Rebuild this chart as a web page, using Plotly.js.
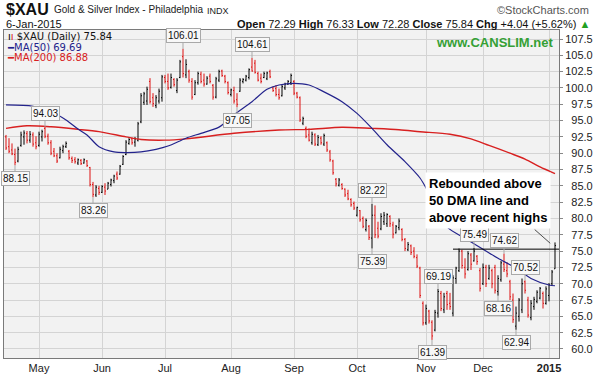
<!DOCTYPE html>
<html><head><meta charset="utf-8">
<script src="https://cdn.plot.ly/plotly-3.0.1.min.js"></script>
<style>html,body{margin:0;padding:0;background:#fff}</style>
</head><body><div id="chart" style="width:595px;height:379px"></div>
<script>
const dates = [
'2014-04-15','2014-04-16','2014-04-17','2014-04-21','2014-04-22','2014-04-23','2014-04-24','2014-04-25','2014-04-28','2014-04-29','2014-04-30',
'2014-05-01','2014-05-02','2014-05-05','2014-05-06','2014-05-07','2014-05-08','2014-05-09','2014-05-12','2014-05-13','2014-05-14','2014-05-15','2014-05-16','2014-05-19','2014-05-20','2014-05-21','2014-05-22','2014-05-23','2014-05-27','2014-05-28','2014-05-29','2014-05-30',
'2014-06-02','2014-06-03','2014-06-04','2014-06-05','2014-06-06','2014-06-09','2014-06-10','2014-06-11','2014-06-12','2014-06-13','2014-06-16','2014-06-17','2014-06-18','2014-06-19','2014-06-20','2014-06-23','2014-06-24','2014-06-25','2014-06-26','2014-06-27','2014-06-30',
'2014-07-01','2014-07-02','2014-07-03','2014-07-07','2014-07-08','2014-07-09','2014-07-10','2014-07-11','2014-07-14','2014-07-15','2014-07-16','2014-07-17','2014-07-18','2014-07-21','2014-07-22','2014-07-23','2014-07-24','2014-07-25','2014-07-28','2014-07-29','2014-07-30','2014-07-31',
'2014-08-01','2014-08-04','2014-08-05','2014-08-06','2014-08-07','2014-08-08','2014-08-11','2014-08-12','2014-08-13','2014-08-14','2014-08-15','2014-08-18','2014-08-19','2014-08-20','2014-08-21','2014-08-22','2014-08-25','2014-08-26','2014-08-27','2014-08-28','2014-08-29',
'2014-09-02','2014-09-03','2014-09-04','2014-09-05','2014-09-08','2014-09-09','2014-09-10','2014-09-11','2014-09-12','2014-09-15','2014-09-16','2014-09-17','2014-09-18','2014-09-19','2014-09-22','2014-09-23','2014-09-24','2014-09-25','2014-09-26','2014-09-29','2014-09-30',
'2014-10-01','2014-10-02','2014-10-03','2014-10-06','2014-10-07','2014-10-08','2014-10-09','2014-10-10','2014-10-13','2014-10-14','2014-10-15','2014-10-16','2014-10-17','2014-10-20','2014-10-21','2014-10-22','2014-10-23','2014-10-24','2014-10-27','2014-10-28','2014-10-29','2014-10-30','2014-10-31',
'2014-11-03','2014-11-04','2014-11-05','2014-11-06','2014-11-07','2014-11-10','2014-11-11','2014-11-12','2014-11-13','2014-11-14','2014-11-17','2014-11-18','2014-11-19','2014-11-20','2014-11-21','2014-11-24','2014-11-25','2014-11-26','2014-11-28',
'2014-12-01','2014-12-02','2014-12-03','2014-12-04','2014-12-05','2014-12-08','2014-12-09','2014-12-10','2014-12-11','2014-12-12','2014-12-15','2014-12-16','2014-12-17','2014-12-18','2014-12-19','2014-12-22','2014-12-23','2014-12-24','2014-12-26','2014-12-29','2014-12-30','2014-12-31',
'2015-01-02','2015-01-05','2015-01-06'];

const opens = [92.5,91.0,90.5,89.8,88.8,91.2,92.5,93.0,92.0,92.8,91.6,
91.2,92.5,93.8,92.6,91.6,90.3,89.6,89.3,90.4,91.0,90.3,89.2,89.0,88.5,88.9,88.5,88.8,87.8,85.2,83.6,84.6,
84.0,84.8,84.5,85.2,85.8,86.8,86.8,88.3,89.8,91.5,92.2,91.7,92.0,94.8,97.8,98.0,101.0,98.5,97.3,98.0,98.5,
101.6,101.0,100.1,101.3,99.6,101.6,104.8,102.0,102.5,101.0,99.0,100.8,102.1,101.2,100.6,101.8,100.4,98.6,101.2,102.6,101.8,100.8,
99.0,99.6,98.2,99.5,101.0,101.2,101.6,103.2,103.8,102.2,101.5,101.6,101.4,102.5,100.0,99.9,99.0,98.8,100.0,100.6,100.8,
101.0,99.2,98.5,94.6,93.8,92.8,91.6,92.8,91.3,92.3,91.4,91.6,90.2,88.8,86.0,85.1,85.2,84.5,83.8,82.9,82.3,
80.5,81.2,80.0,78.3,78.8,77.0,80.5,78.5,78.4,79.5,79.2,80.3,79.0,77.8,78.6,78.3,76.8,75.2,75.8,75.0,74.0,72.4,67.0,
64.0,65.8,64.1,62.9,65.5,68.5,66.0,68.5,67.0,65.5,70.8,72.0,75.0,72.5,72.2,74.4,73.5,74.2,72.0,
70.0,72.5,70.8,72.0,72.5,68.8,70.6,73.0,72.0,70.3,67.5,63.5,65.0,66.0,70.3,67.5,64.8,66.5,67.3,67.8,68.5,67.0,
68.2,70.0,72.29];
const highs = [92.8,92.3,91.5,90.7,91.0,93.3,93.5,93.4,93.4,93.2,92.6,
93.3,93.6,94.03,93.0,92.0,90.8,90.0,91.0,91.3,91.8,90.5,89.5,89.4,89.2,89.1,89.2,88.95,87.9,85.6,85.1,85.0,
85.1,85.4,85.6,86.1,86.7,87.2,88.2,89.7,92.0,92.3,92.4,92.5,94.8,99.2,99.4,100.2,101.5,99.2,98.9,99.9,102.0,
102.0,102.2,102.2,101.5,101.5,104.3,106.01,104.4,102.8,101.5,101.2,102.5,102.5,102.2,101.8,102.2,100.6,101.7,102.8,102.8,102.0,101.0,
99.9,100.2,99.2,101.5,101.5,102.0,103.0,104.61,104.3,102.5,102.2,102.5,102.5,102.8,100.2,100.45,99.9,100.45,100.8,101.2,102.2,
101.2,99.4,98.7,95.6,94.1,93.8,93.3,93.05,92.8,92.6,93.0,91.8,90.5,89.0,86.2,86.2,85.4,84.6,84.4,83.1,82.6,
81.8,81.3,80.3,80.0,79.0,82.22,82.0,79.5,80.8,81.0,80.8,80.5,79.5,79.0,80.0,78.5,77.0,76.4,76.0,75.6,74.5,72.6,67.3,
66.8,66.0,64.4,66.0,69.19,68.9,68.6,68.9,68.6,71.3,72.6,75.4,75.2,73.9,75.0,74.7,75.49,74.4,72.4,
73.1,72.9,72.9,72.3,72.9,71.3,73.5,74.62,73.3,70.6,68.5,66.5,67.8,70.8,70.52,68.0,67.5,68.0,69.0,69.5,68.8,69.6,
70.1,72.1,76.33];
const lows = [90.5,90.0,89.7,88.15,88.6,91.0,91.3,91.5,91.6,91.0,90.6,
91.0,91.8,92.3,91.3,89.7,89.4,88.5,89.2,90.0,90.8,89.0,88.5,88.4,88.2,88.2,88.4,87.9,84.9,83.26,83.3,83.6,
83.9,83.6,84.5,84.9,85.4,85.9,86.7,88.2,89.7,91.3,91.3,91.0,91.8,94.6,97.4,97.4,97.6,97.1,96.9,97.6,97.9,
100.7,99.7,99.9,100.2,99.2,101.5,101.6,101.5,100.8,98.2,98.9,100.5,100.7,100.2,100.5,100.7,98.2,98.4,100.9,101.7,100.7,99.0,
98.7,97.6,97.05,99.4,100.7,101.0,101.3,102.5,102.2,101.0,100.7,101.5,101.2,101.5,99.4,98.7,98.2,98.7,99.7,100.45,100.45,
98.9,98.4,94.8,94.3,92.3,91.8,91.3,91.1,91.1,91.3,91.1,90.2,88.7,86.7,84.9,84.9,84.4,83.3,82.8,81.8,81.3,
80.3,79.5,78.5,78.0,76.7,75.39,77.0,76.95,78.2,79.0,78.7,78.7,76.95,77.7,78.2,76.5,75.0,75.0,74.4,73.9,72.4,67.8,63.6,
63.7,63.9,61.39,62.7,64.8,65.8,65.5,66.0,66.0,65.0,70.0,71.8,72.3,70.8,72.0,72.1,73.4,72.9,68.8,
69.8,69.5,70.6,69.3,68.5,68.16,70.3,71.8,71.0,67.5,64.0,62.94,64.2,65.5,68.5,64.8,64.4,66.0,67.0,67.6,66.2,66.8,
67.3,69.8,72.28];
const closes = [90.8,90.3,89.9,88.6,90.6,92.8,93.1,92.0,92.9,91.4,91.0,
92.9,93.3,92.6,91.6,90.0,89.6,88.8,90.6,91.0,91.5,89.3,88.9,88.7,89.0,88.4,89.0,88.1,85.2,83.7,84.8,84.0,
84.9,84.2,85.4,85.9,86.5,86.2,88.0,89.5,91.7,92.1,91.6,92.2,94.5,98.8,99.1,99.8,97.9,97.6,98.5,99.5,101.7,
101.0,100.0,101.6,100.5,101.2,104.0,102.2,103.6,101.2,98.6,100.8,102.2,101.0,100.6,101.5,101.0,98.6,101.4,102.5,101.9,101.0,99.3,
99.7,98.0,97.5,101.2,101.3,101.8,102.8,102.6,102.4,101.2,101.0,102.2,102.3,101.7,99.6,99.0,98.5,100.2,100.6,101.0,101.9,
99.2,98.6,95.1,95.3,92.6,92.0,92.9,91.4,92.4,91.6,92.7,90.5,89.0,87.0,85.3,85.9,84.6,83.6,83.0,82.1,81.6,
81.7,79.8,78.8,79.7,77.1,80.5,77.5,77.3,80.3,80.5,80.6,79.2,77.6,78.8,79.6,76.8,75.4,76.0,74.8,74.2,72.7,68.2,64.0,
66.2,64.3,62.0,65.6,68.8,66.2,68.0,66.8,66.5,70.9,72.4,75.0,72.8,71.5,74.6,73.0,75.0,73.4,69.3,
72.5,70.0,72.4,70.0,69.0,70.8,73.2,72.2,71.5,68.0,64.5,65.5,67.5,70.0,69.0,65.2,67.0,67.6,68.7,69.3,67.0,69.2,
69.8,71.80,75.84];

const ma50Dates = ['2014-04-15','2014-04-29','2014-05-07','2014-05-14','2014-05-20','2014-05-23','2014-05-30','2014-06-06','2014-06-12','2014-06-19','2014-06-26','2014-07-02','2014-07-11','2014-07-18','2014-07-28','2014-08-04','2014-08-12','2014-08-19','2014-08-25','2014-09-02','2014-09-09','2014-09-16','2014-09-24','2014-10-01','2014-10-08','2014-10-15','2014-10-23','2014-10-30','2014-11-04','2014-11-12','2014-11-20','2014-12-01','2014-12-08','2014-12-16','2014-12-23','2015-01-02','2015-01-06'];
const ma50Values = [97.4,97.2,96.4,95.1,93.7,92.8,91.0,90.2,90.1,90.2,90.6,91.1,92.3,93.05,94.0,95.9,97.9,99.8,100.45,100.7,100.45,99.4,97.9,96.1,93.8,91.3,88.7,86.2,83.85,78.7,76.96,75.3,73.9,72.4,70.8,69.8,69.69];
const ma200Dates = ['2014-04-15','2014-04-25','2014-05-07','2014-05-20','2014-05-30','2014-06-12','2014-06-19','2014-07-01','2014-07-11','2014-08-04','2014-08-25','2014-09-09','2014-09-24','2014-10-08','2014-10-21','2014-10-30','2014-11-13','2014-11-24','2014-12-03','2014-12-12','2014-12-19','2014-12-29','2015-01-06'];
const ma200Values = [93.8,94.2,94.05,93.66,93.3,92.5,92.1,92.0,92.2,93.05,93.56,93.66,93.97,93.8,93.6,93.3,92.9,92.2,91.2,90.0,89.1,87.9,86.88];

const calloutHighDates = ['2014-05-05','2014-07-10','2014-08-12','2014-10-08','2014-11-07','2014-11-25','2014-12-10','2014-12-19'];
const calloutLowDates = ['2014-04-21','2014-05-28','2014-08-05','2014-10-08','2014-11-05','2014-12-08','2014-12-16'];
const resistanceLevel = 75.3;
const resistanceFrom = '2014-11-14';
const yTicks = [60,62.5,65,67.5,70,72.5,75,77.5,80,82.5,85,87.5,90,92.5,95,97.5,100,102.5,105,107.5];
const monthAbbr = ['Jan','Feb','Mar','Apr','May','Jun','Jul','Aug','Sep','Oct','Nov','Dec'];
const noteText = 'Rebounded above<br>50 DMA line and<br>above recent highs';

const pos = d => dates.indexOf(d);
const N = dates.length;

const up = {x:[],open:[],high:[],low:[],close:[]};
const dn = {x:[],open:[],high:[],low:[],close:[]};
for (let i = 0; i < N; i++) {
  const prev = i > 0 ? closes[i-1] : opens[i];
  const t = closes[i] >= prev ? up : dn;
  t.x.push(i); t.open.push(opens[i]); t.high.push(highs[i]); t.low.push(lows[i]); t.close.push(closes[i]);
}
function ohlcTrace(s, color) {
  return {type:'ohlc', x:s.x, open:s.open, high:s.high, low:s.low, close:s.close,
    increasing:{line:{color:color, width:1}}, decreasing:{line:{color:color, width:1}},
    tickwidth:0.34, hoverinfo:'skip', showlegend:false};
}
const RED = '#dd1111', NAVY = '#23238c', MARED = '#d82020';
const traces = [
  {type:'scatter', mode:'lines', x:ma200Dates.map(pos), y:ma200Values, line:{color:MARED, width:1.4, shape:'spline', smoothing:0.8}, hoverinfo:'skip', showlegend:false},
  {type:'scatter', mode:'lines', x:ma50Dates.map(pos), y:ma50Values, line:{color:NAVY, width:1.2, shape:'spline', smoothing:0.8}, hoverinfo:'skip', showlegend:false},
  ohlcTrace(up, '#000000'),
  ohlcTrace(dn, RED)
];

const tickIdx = [], tickText = [];
dates.forEach((d, i) => {
  if (i > 0 && d.slice(5,7) !== dates[i-1].slice(5,7)) {
    const m = +d.slice(5,7);
    tickIdx.push(i);
    tickText.push(m === 1 ? '<b>' + d.slice(0,4) + '</b>' : monthAbbr[m-1]);
  }
});

const L = 4, R = 559, T = 30, B = 358;
const PW = R - L, PH = B - T;
const px = x => (x - L) / PW;
const py = y => 1 - (y - T) / PH;

const annotations = [];
const boxStyle = {font:{family:'Liberation Sans, Arial', size:10, color:'#111'}, bgcolor:'#f8f8f8', bordercolor:'#a9a9a9', borderwidth:1, borderpad:1, showarrow:true, arrowhead:0, arrowwidth:1, arrowcolor:'#a9a9a9', ax:0};
calloutHighDates.forEach(d => { const i = pos(d); annotations.push(Object.assign({}, boxStyle, {x:i, y:highs[i], xref:'x', yref:'y', text:highs[i].toFixed(2), ay:-13})); });
calloutLowDates.forEach(d => { const i = pos(d); annotations.push(Object.assign({}, boxStyle, {x:i, y:lows[i], xref:'x', yref:'y', text:lows[i].toFixed(2), ay:13})); });

const last = N - 1;
const chg = closes[last] - closes[last-1];
annotations.push(
  {xref:'paper', yref:'paper', x:px(4), y:py(10), xanchor:'left', yanchor:'middle', showarrow:false, text:'<b>$XAU</b>', font:{size:16, color:'#111'}},
  {xref:'paper', yref:'paper', x:px(52), y:py(10), xanchor:'left', yanchor:'middle', showarrow:false, text:'Gold & Silver Index - Philadelphia', font:{size:10, color:'#222'}},
  {xref:'paper', yref:'paper', x:px(205), y:py(11), xanchor:'left', yanchor:'middle', showarrow:false, text:'INDX', font:{size:9, color:'#222'}},
  {xref:'paper', yref:'paper', x:px(591), y:py(10), xanchor:'right', yanchor:'middle', showarrow:false, text:'©StockCharts.com', font:{size:11, color:'#555'}},
  {xref:'paper', yref:'paper', x:px(4), y:py(24), xanchor:'left', yanchor:'middle', showarrow:false, text:'6-Jan-2015', font:{size:11, color:'#111'}},
  {xref:'paper', yref:'paper', x:px(592), y:py(24), xanchor:'right', yanchor:'middle', showarrow:false,
   text:'<b>Open</b> ' + opens[last].toFixed(2) + ' <b>High</b> ' + highs[last].toFixed(2) + ' <b>Low</b> ' + lows[last].toFixed(2) + ' <b>Close</b> ' + closes[last].toFixed(2) + ' <b>Chg</b> +' + chg.toFixed(2) + ' (+5.62%) <span style="color:#22a022">▲</span>',
   font:{size:11, color:'#111'}},
  {xref:'paper', yref:'paper', x:px(6), y:py(36), xanchor:'left', yanchor:'middle', showarrow:false,
   text:'<span style="color:#000">ı</span><span style="color:#d11">ı</span> $XAU (Daily) ' + closes[last].toFixed(2), font:{family:'DejaVu Sans', size:10, color:'#111'}},
  {xref:'paper', yref:'paper', x:px(5), y:py(47), xanchor:'left', yanchor:'middle', showarrow:false,
   text:'<span style="color:' + NAVY + '">━</span>MA(50) ' + ma50Values[ma50Values.length-1].toFixed(2), font:{family:'DejaVu Sans', size:10, color:NAVY}},
  {xref:'paper', yref:'paper', x:px(5), y:py(58), xanchor:'left', yanchor:'middle', showarrow:false,
   text:'<span style="color:' + MARED + '">━</span>MA(200) ' + ma200Values[ma200Values.length-1].toFixed(2), font:{family:'DejaVu Sans', size:10, color:MARED}},
  {xref:'paper', yref:'paper', x:px(494), y:py(42), xanchor:'center', yanchor:'middle', showarrow:false,
   text:'<b>www.CANSLIM.net</b>', font:{size:13, color:'#35a035'}},
  {xref:'paper', yref:'paper', x:px(425), y:py(172), xanchor:'left', yanchor:'top', align:'left', showarrow:false,
   text:'<b>' + noteText + '</b>', font:{size:13, color:'#000'}, bgcolor:'#ffffff', borderpad:3},
  {xref:'x', yref:'y', x:181.4, y:76.2, text:'', showarrow:true, arrowhead:0, arrowwidth:0.8, arrowcolor:'#222', ax:-17, ay:-15}
);

const layout = {
  width:595, height:379,
  margin:{l:L, r:595-R, t:T, b:379-B, pad:0},
  paper_bgcolor:'#ffffff', plot_bgcolor:'#f2f2f2',
  font:{family:'Liberation Sans, Arial, sans-serif', size:11, color:'#222'},
  showlegend:false,
  xaxis:{range:[-0.67, 184.33], tickmode:'array', tickvals:tickIdx, ticktext:tickText,
    showgrid:true, gridcolor:'#d4d4d4', gridwidth:1, zeroline:false,
    showline:true, linecolor:'#7a7a7a', linewidth:1, mirror:true, ticks:'', tickfont:{size:11, color:'#222'},
    rangeslider:{visible:false}, fixedrange:true},
  yaxis:{side:'right', range:[58.62, 108.88], tickmode:'array', tickvals:yTicks,
    ticktext:yTicks.map(v => v.toFixed(1).padStart(5, '\u2007')),
    showgrid:true, gridcolor:'#d4d4d4', gridwidth:1, zeroline:false,
    showline:true, linecolor:'#7a7a7a', linewidth:1, mirror:true, ticks:'outside', ticklen:3, tickcolor:'#888',
    tickfont:{size:11, color:'#222'}, fixedrange:true},
  shapes:[{type:'line', xref:'x', yref:'y', x0:pos(resistanceFrom), x1:184.33, y0:resistanceLevel, y1:resistanceLevel, line:{color:'#000', width:1}}],
  annotations:annotations
};
Plotly.newPlot('chart', traces, layout, {staticPlot:true, displayModeBar:false});
</script>
</body></html>
